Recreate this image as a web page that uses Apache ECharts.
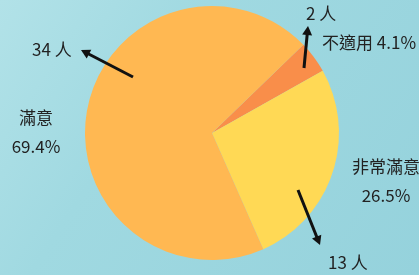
<!DOCTYPE html>
<html><head><meta charset="utf-8">
<script src="https://cdn.jsdelivr.net/npm/echarts@6/dist/echarts.min.js"></script>
<style>html,body{margin:0;padding:0;}#c{width:419px;height:275px;}</style>
</head><body><div id="c"></div>
<script>
// Data
const categories = ['不適用', '非常滿意', '滿意'];
const counts = [2, 13, 34];
const unit = '人';

// Layout (annotation positions, not data)
const pctLabelPos = [ {x:322, y:43, align:'left'}, {x:386, y:181, align:'center'}, {x:36, y:132, align:'center'} ];
const cntLabelPos = [ {x:306, y:14, align:'left'}, {x:328, y:263, align:'left'}, {x:32, y:50, align:'left'} ];
const arrows = [ [[304,68],[308,26]], [[298,190],[320,245]], [[133,77],[81,50]] ];
const colors = ['#F98E4A', '#FFD955', '#FFB852'];

const font = '"Noto Sans CJK TC", "Noto Sans", sans-serif';
const chart = echarts.init(document.getElementById('c'));

function arrowGraphic(a){
  const [t, h] = a;
  const dx = h[0]-t[0], dy = h[1]-t[1];
  const L = Math.hypot(dx, dy), ux = dx/L, uy = dy/L;
  const hl = 9, hw = 5;
  const bx = h[0]-ux*hl, by = h[1]-uy*hl;
  return [
    {type:'line', shape:{x1:t[0], y1:t[1], x2:bx+ux*2, y2:by+uy*2}, style:{stroke:'#111', lineWidth:3}},
    {type:'polygon', shape:{points:[[h[0],h[1]],[bx-uy*hw, by+ux*hw],[bx+uy*hw, by-ux*hw]]}, style:{fill:'#111'}}
  ];
}

const total = counts.reduce((a,b)=>a+b,0);
const pct = counts.map(v => (Math.round(v/total*1000)/10).toFixed(1));

const texts = [];
categories.forEach((c,i)=>{
  const p = pctLabelPos[i];
  texts.push({type:'text', x:p.x, y:p.y, z:100,
    style:{text: i===0 ? c+' '+pct[i]+'%' : c+'\n'+pct[i]+'%', fill:'#222', font:'17px '+font,
      align:p.align, verticalAlign:'middle', lineHeight:29}});
  const q = cntLabelPos[i];
  texts.push({type:'text', x:q.x, y:q.y, z:100,
    style:{text: counts[i]+' '+unit, fill:'#222', font:'17px '+font, align:q.align, verticalAlign:'middle'}});
});

const data = categories.map((c,i)=>({name:c, value:counts[i], itemStyle:{color:colors[i]}}));

chart.setOption({
  backgroundColor: {
    type:'linear', x:0, y:0, x2:1, y2:1,
    colorStops:[{offset:0,color:'#B2E2E8'},{offset:0.35,color:'#A0D9E1'},{offset:1,color:'#95D2DC'}]
  },
  animation:false,
  graphic: [].concat(...arrows.map(arrowGraphic)).map(g=>Object.assign(g,{z:100})).concat(texts),
  series:[
    {
      type:'pie', center:[212,133], radius:127, startAngle:44, clockwise:true, silent:true,
      data:data, label:{show:false}, labelLine:{show:false}
    }
  ]
});
</script></body></html>
